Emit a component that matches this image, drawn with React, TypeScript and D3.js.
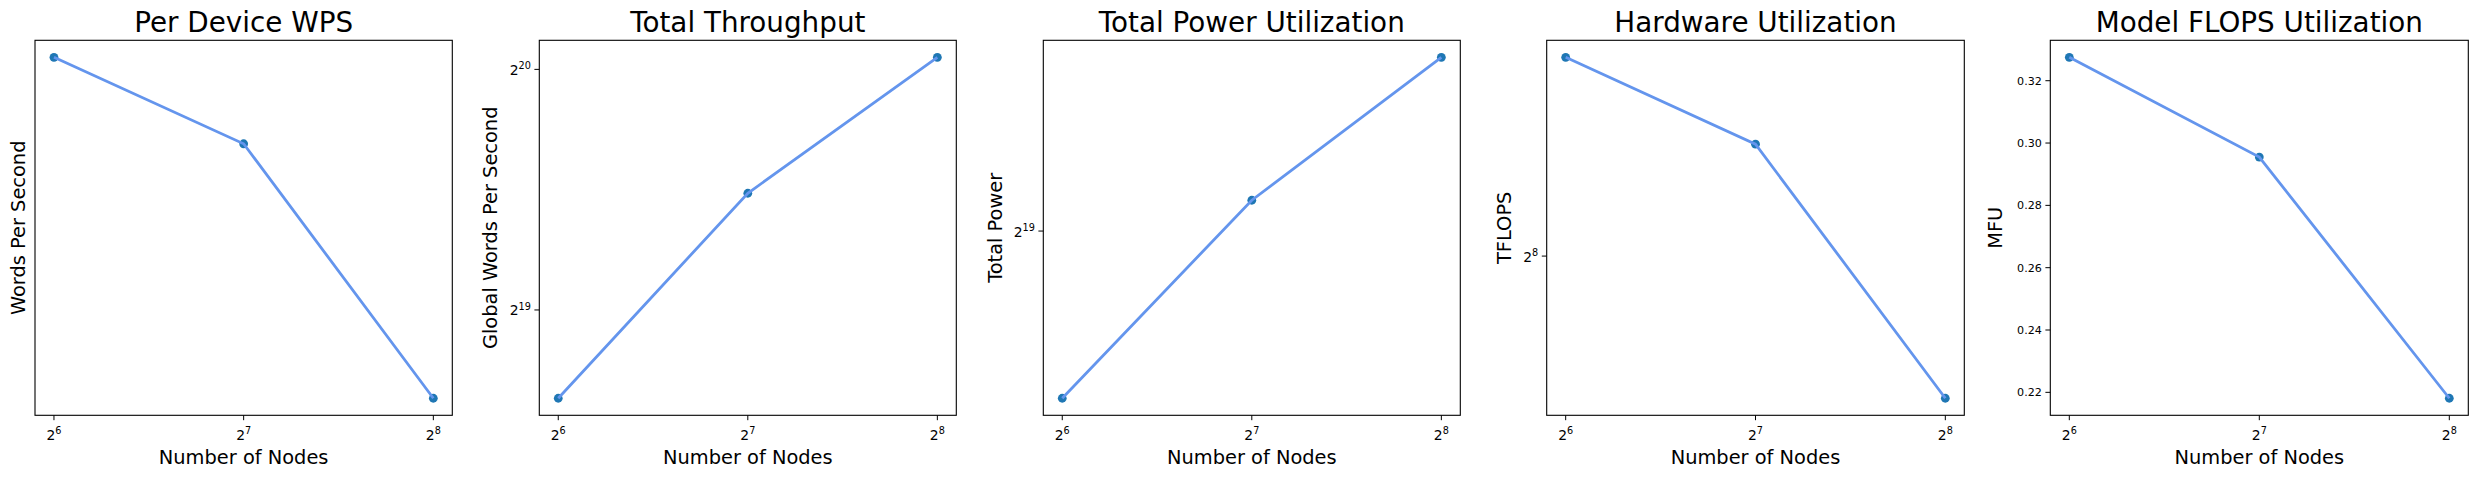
import React, { useRef, useEffect } from "react";
import * as d3 from "d3";

// x values: number of nodes
const nodes = [64, 128, 256];

// series
const perDeviceWps = [794.0, 716.7, 530.1];
const globalWps = [406530, 733850, 1085600];
const totalPower = [323880, 572950, 864800];
const tflops = [324.0, 292.3, 216.3];
const mfu = [0.3275, 0.2955, 0.2181];

const mfuTicks = [0.22, 0.24, 0.26, 0.28, 0.3, 0.32];

const titles = [
  "Per Device WPS",
  "Total Throughput",
  "Total Power Utilization",
  "Hardware Utilization",
  "Model FLOPS Utilization",
];
const yLabels = ["Words Per Second", "Global Words Per Second", "Total Power", "TFLOPS", "MFU"];
const seriesList = [perDeviceWps, globalWps, totalPower, tflops, mfu];
const yKinds = ["log", "log", "log", "log", "linear"];

// layout (px)
const axLefts = [35, 539.3, 1043.3, 1546.7, 2050.3];
const axRights = [452.3, 956.3, 1460.3, 1964.3, 2468.3];
const yLabelOffsets = [10, 42.6, 41.6, 35.7, 48];
const axTop = 40.3;
const axBottom = 415.3;

const FONT = "DejaVu Sans, sans-serif";
const LINE_COLOR = "#6495ED";
const DOT_COLOR = "#1f77b4";

function padExtent(lo: number, hi: number) {
  const d = (hi - lo) * 0.05;
  return [lo - d, hi + d];
}

export default function App() {
  const svgRef = useRef<SVGSVGElement>(null);

  useEffect(() => {
    const svg = d3.select(svgRef.current);
    svg.selectAll("*").remove();

    seriesList.forEach((values, i) => {
      const left = axLefts[i];
      const right = axRights[i];
      const g = svg.append("g");

      // x: log2 scale with 5% margins in log space
      const [xl, xh] = padExtent(Math.log2(d3.min(nodes)!), Math.log2(d3.max(nodes)!));
      const x = d3.scaleLog().base(2).domain([2 ** xl, 2 ** xh]).range([left, right]);

      let y: any;
      let yTicks: number[] = [];
      if (yKinds[i] === "log") {
        const [yl, yh] = padExtent(Math.log2(d3.min(values)!), Math.log2(d3.max(values)!));
        y = d3.scaleLog().base(2).domain([2 ** yl, 2 ** yh]).range([axBottom, axTop]);
        for (let e = Math.ceil(yl); e <= Math.floor(yh); e++) yTicks.push(e);
      } else {
        const [yl, yh] = padExtent(d3.min(values)!, d3.max(values)!);
        y = d3.scaleLinear().domain([yl, yh]).range([axBottom, axTop]);
        yTicks = mfuTicks;
      }

      // markers then line on top
      g.selectAll("circle.pt")
        .data(values)
        .enter()
        .append("circle")
        .attr("cx", (_d, j) => x(nodes[j]))
        .attr("cy", (d) => y(d))
        .attr("r", 4.4)
        .attr("fill", DOT_COLOR);

      const line = d3
        .line<number>()
        .x((_d, j) => x(nodes[j]))
        .y((d) => y(d));
      g.append("path")
        .attr("d", line(values))
        .attr("fill", "none")
        .attr("stroke", LINE_COLOR)
        .attr("stroke-width", 2.8);

      // frame
      g.append("rect")
        .attr("x", left)
        .attr("y", axTop)
        .attr("width", right - left)
        .attr("height", axBottom - axTop)
        .attr("fill", "none")
        .attr("stroke", "black")
        .attr("stroke-width", 1.1);

      // x ticks
      nodes.forEach((n) => {
        const px = x(n);
        g.append("line")
          .attr("x1", px).attr("x2", px)
          .attr("y1", axBottom).attr("y2", axBottom + 4.9)
          .attr("stroke", "black");
        const t = g.append("text")
          .attr("x", px)
          .attr("y", axBottom + 24.6)
          .attr("text-anchor", "middle")
          .attr("font-family", FONT)
          .attr("font-size", 13.9);
        t.append("tspan").text("2");
        t.append("tspan").attr("dy", -5.6).attr("font-size", 9.7).text(String(Math.log2(n)));
      });

      // y ticks
      yTicks.forEach((tv) => {
        const py = yKinds[i] === "log" ? y(2 ** tv) : y(tv);
        g.append("line")
          .attr("x1", left - 4.9).attr("x2", left)
          .attr("y1", py).attr("y2", py)
          .attr("stroke", "black");
        const t = g.append("text")
          .attr("x", left - 8.5)
          .attr("text-anchor", "end")
          .attr("font-family", FONT);
        if (yKinds[i] === "log") {
          t.attr("y", py + 5.5).attr("font-size", 13.9);
          t.append("tspan").text("2");
          t.append("tspan").attr("dy", -5.6).attr("font-size", 9.7).text(String(tv));
        } else {
          t.attr("y", py + 4).attr("font-size", 11.1).text(tv.toFixed(2));
        }
      });

      // title
      g.append("text")
        .attr("x", (left + right) / 2)
        .attr("y", 32.3)
        .attr("text-anchor", "middle")
        .attr("font-family", FONT)
        .attr("font-size", 27.8)
        .text(titles[i]);

      // x label
      g.append("text")
        .attr("x", (left + right) / 2)
        .attr("y", 464)
        .attr("text-anchor", "middle")
        .attr("font-family", FONT)
        .attr("font-size", 19.4)
        .text("Number of Nodes");

      // y label
      const lx = left - yLabelOffsets[i];
      const ly = (axTop + axBottom) / 2;
      g.append("text")
        .attr("transform", `translate(${lx},${ly}) rotate(-90)`)
        .attr("text-anchor", "middle")
        .attr("font-family", FONT)
        .attr("font-size", 19.4)
        .text(yLabels[i]);
    });
  }, []);

  return (
    <svg
      ref={svgRef}
      width={2478}
      height={478}
      style={{ position: "absolute", left: 0, top: 0, background: "white" }}
    ></svg>
  );
}
